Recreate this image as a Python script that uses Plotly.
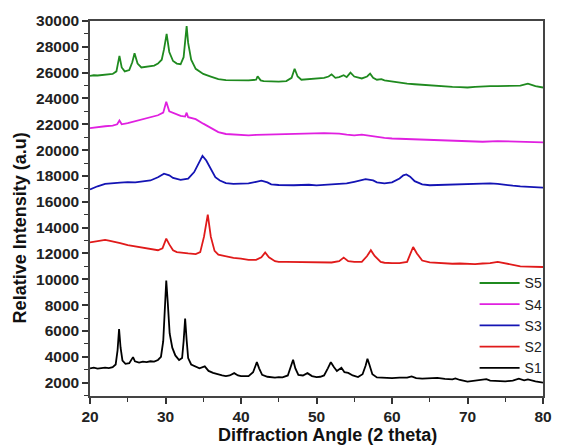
import plotly.graph_objects as go

# ---------------- data ----------------
s1_x = [20, 20.5, 21, 21.5, 22, 22.5, 23, 23.4, 23.65, 23.85, 24.05, 24.3, 24.7, 25.2, 25.5, 25.7, 25.95,
        26.5, 27, 27.5, 28, 28.5, 29, 29.4, 29.7, 29.9, 30.1, 30.3, 30.55, 30.9, 31.3, 31.8, 32.2, 32.4,
        32.6, 32.8, 33.0, 33.4, 34, 34.5, 35.2, 35.7, 36.3, 37, 37.5, 38, 38.5, 39.1, 39.6, 40, 40.5, 41,
        41.6, 41.9, 42.1, 42.4, 42.8, 43.5, 44, 44.5, 45, 45.5, 46.2, 46.6, 46.9, 47.2, 47.6, 48.2, 48.8,
        49.4, 50, 50.5, 51, 51.5, 51.9, 52.3, 52.7, 53.3, 53.7, 54.2, 54.8, 55.5, 56.1, 56.5, 56.75, 57.0,
        57.4, 58, 58.5, 59, 60, 61, 62, 62.6, 63.2, 64, 65, 66, 67, 68, 68.4, 69, 70, 71, 72, 72.5, 73, 74,
        75, 76, 76.8, 77.5, 78, 79, 80]
s1_y = [3100, 3150, 3080, 3130, 3160, 3120, 3200, 3400, 4500, 6150, 4700, 3700, 3450, 3500, 3750, 3970, 3650,
        3550, 3620, 3580, 3650, 3620, 3750, 4000, 5200, 7800, 9900, 8200, 5800, 4700, 4100, 3750, 3900, 5200,
        6950, 5300, 3900, 3400, 3250, 3100, 3250, 2900, 2750, 2600, 2550, 2500, 2550, 2730, 2550, 2500, 2480, 2500,
        2800, 3350, 3580, 3100, 2600, 2450, 2420, 2380, 2420, 2400, 2550, 3200, 3770, 3100, 2600, 2550, 2730,
        2500, 2420, 2450, 2550, 3100, 3580, 3200, 2900, 3150, 2800, 2750, 2550, 2430, 2650, 3300, 3850, 3400,
        2650, 2400, 2380, 2400, 2350, 2380, 2380, 2480, 2350, 2300, 2320, 2360, 2280, 2250, 2320, 2200, 2080,
        2150, 2180, 2260, 2150, 2130, 2100, 2150, 2300, 2180, 2250, 2100, 2000]

s2_x = [20, 20.5, 21, 21.5, 22, 22.5, 23, 24, 25, 26, 27, 28, 29, 29.6, 30.1, 30.5, 31, 31.5, 32, 33, 34,
        34.6, 35.1, 35.6, 36.0, 36.5, 37, 38, 39, 40, 41, 42, 42.7, 43.2, 43.7, 44.5, 45, 46, 47, 48, 49,
        50, 51, 52, 53, 53.6, 54.2, 55, 56, 56.7, 57.2, 57.7, 58.5, 59, 60, 61, 62, 62.4, 62.8, 63.3, 64,
        65, 66, 67, 68, 69, 70, 71, 72, 73, 74, 75, 76, 77, 78, 79, 80]
s2_y = [12850, 12900, 12950, 13000, 13050, 13000, 12950, 12800, 12650, 12550, 12450, 12350, 12250, 12400,
        13150, 12700, 12250, 12100, 12050, 12000, 11950, 12100, 13300, 15000, 13300, 12200, 11900, 11750,
        11650, 11600, 11500, 11500, 11700, 12070, 11700, 11400, 11350, 11350, 11350, 11330, 11350, 11330,
        11350, 11300, 11400, 11680, 11400, 11350, 11350, 11800, 12250, 11800, 11350, 11280, 11250, 11250,
        11350, 11900, 12500, 12000, 11450, 11300, 11250, 11230, 11200, 11220, 11200, 11180, 11220, 11250,
        11350, 11250, 11100, 11000, 10980, 10950, 10950]

s3_x = [20, 20.5, 21, 22, 23, 24, 25, 26, 27, 28, 29, 29.8, 30.5, 31, 32, 33, 33.8, 34.4, 34.9, 35.4, 36,
        36.6, 37.2, 38, 39, 40, 41, 42, 42.7, 43.5, 44, 45, 46, 47, 48, 49, 50, 51, 52, 53, 54, 55, 56,
        56.5, 57.5, 58, 59, 60, 61, 61.5, 61.9, 62.4, 63, 64, 65, 66, 67, 68, 69, 70, 71, 72, 73, 74, 75,
        76, 77, 78, 79, 80]
s3_y = [16950, 17100, 17200, 17380, 17450, 17480, 17520, 17500, 17580, 17650, 17900, 18180, 18050, 17850,
        17700, 17800, 18300, 19000, 19550, 19200, 18500, 17900, 17650, 17450, 17380, 17400, 17420, 17550,
        17630, 17500, 17350, 17300, 17270, 17280, 17300, 17320, 17270, 17300, 17350, 17380, 17420, 17550,
        17700, 17760, 17650, 17500, 17420, 17500, 17800, 18050, 18120, 17950, 17600, 17350, 17280, 17300,
        17320, 17350, 17380, 17400, 17420, 17450, 17420, 17380, 17300, 17250, 17200, 17150, 17100, 17100]

s4_x = [20, 20.5, 21, 22, 23, 23.6, 23.9, 24.2, 25, 26, 27, 28, 29, 29.7, 30.1, 30.5, 31, 31.5, 32, 32.6,
        32.8, 33.0, 34, 35, 36, 37, 38, 39, 40, 41, 42, 43, 44, 45, 46, 47, 48, 49, 50, 51, 52, 53, 54, 55,
        56, 57, 58, 59, 60, 62, 64, 66, 68, 70, 72, 74, 76, 78, 80]
s4_y = [21700, 21750, 21780, 21850, 21900, 22000, 22300, 22000, 22100, 22250, 22400, 22550, 22700, 22900,
        23750, 23000, 22900, 22800, 22650, 22600, 22900, 22550, 22400, 22050, 21700, 21400, 21250, 21200,
        21150, 21150, 21180, 21200, 21200, 21230, 21250, 21270, 21250, 21300, 21300, 21320, 21300, 21280,
        21200, 21150, 21200, 21100, 21000, 20950, 20900, 20850, 20800, 20750, 20750, 20700, 20650, 20700,
        20650, 20650, 20600]

s5_x = [20, 20.5, 21, 22, 23, 23.5, 23.9, 24.2, 24.6, 25.2, 25.6, 25.9, 26.3, 26.8, 27.5, 28, 28.5, 29,
        29.5, 29.8, 30.15, 30.5, 31, 31.5, 32, 32.4, 32.6, 32.8, 33.0, 33.4, 34, 35, 36, 37, 38, 39, 40, 41,
        42, 42.2, 42.6, 43, 44, 45, 46, 46.7, 47.1, 47.5, 48, 49, 50, 51, 51.6, 52, 52.5, 53, 53.6, 54,
        54.5, 55, 56, 56.7, 57.1, 57.5, 58, 58.6, 59, 60, 61, 62, 63, 64, 65, 66, 67, 68, 69, 70, 71, 72,
        73, 74, 75, 76, 77, 78, 79, 80]
s5_y = [25750, 25800, 25780, 25850, 25900, 26100, 27300, 26400, 26100, 26200, 26800, 27500, 26700, 26400,
        26450, 26500, 26550, 26700, 27000, 27800, 29000, 27600, 26900, 26700, 26650, 27200, 28500, 29600,
        28300, 27000, 26300, 25900, 25700, 25500, 25420, 25400, 25380, 25400, 25450, 25720, 25400, 25350,
        25330, 25300, 25350, 25600, 26300, 25700, 25450, 25500, 25500, 25600, 25700, 25870, 25600, 25650,
        25800, 25650, 26000, 25700, 25550, 25700, 25920, 25600, 25450, 25500, 25400, 25300, 25200, 25150,
        25100, 25050, 25020, 24950, 24950, 24900, 24880, 24850, 24900, 24950, 24950, 24950, 24950, 24950,
        25000, 25150, 24950, 24850]

names = ["S5", "S4", "S3", "S2", "S1"]
colors = ["#1f8a1f", "#e020e0", "#1414b4", "#e01a1a", "#000000"]
xs = [s5_x, s4_x, s3_x, s2_x, s1_x]
ys = [s5_y, s4_y, s3_y, s2_y, s1_y]

x_ticks = [20, 30, 40, 50, 60, 70, 80]
y_ticks = list(range(2000, 30001, 2000))

FONT = "Arial, Liberation Sans, sans-serif"

fig = go.Figure()
for n, c, x, y in zip(names, colors, xs, ys):
    fig.add_trace(go.Scatter(x=x, y=y, mode="lines", name=n,
                             line=dict(color=c, width=1.8)))

axis_font = dict(family=FONT, size=15.5, color="#222222")
fig.update_layout(
    width=563, height=448,
    margin=dict(l=90, r=11, t=21, b=52),
    paper_bgcolor="white", plot_bgcolor="white",
    showlegend=True,
    legend=dict(x=0.849, y=0.343, xanchor="left", yanchor="top",
                bgcolor="rgba(0,0,0,0)", font=dict(family=FONT, size=14, color="#222222"),
                tracegroupgap=0, itemwidth=40),
    annotations=[
        dict(text="<b>Diffraction Angle (2 theta)</b>", xref="paper", yref="paper",
             x=(332 - 90) / 462, y=-(435 - 396) / 375, xanchor="center", yanchor="middle",
             showarrow=False, font=dict(family=FONT, size=18, color="#111")),
        dict(text="<b>Relative Intensity (a.u)</b>", xref="paper", yref="paper",
             x=-(90 - 19) / 462, y=1 - (228 - 21) / 375, xanchor="center", yanchor="middle",
             textangle=-90, showarrow=False, font=dict(family=FONT, size=18, color="#111")),
    ],
)
fig.update_xaxes(
    range=[20, 80], tickvals=x_ticks, ticktext=[f"<b>{v}</b>" for v in x_ticks],
    ticks="outside", ticklen=6, tickwidth=1.5, tickcolor="#333",
    minor=dict(dtick=5, tick0=0, ticks="outside", ticklen=4, tickwidth=1.2, tickcolor="#333"),
    showline=True, linecolor="#444", linewidth=1.5, mirror=True,
    showgrid=False, zeroline=False, tickfont=axis_font,
)
fig.update_yaxes(
    range=[960, 30000], tickvals=y_ticks, ticktext=[f"<b>{v}</b>" for v in y_ticks],
    ticks="outside", ticklen=6, tickwidth=1.5, tickcolor="#333",
    minor=dict(dtick=1000, tick0=0, ticks="outside", ticklen=4, tickwidth=1.2, tickcolor="#333"),
    showline=True, linecolor="#444", linewidth=1.5, mirror=True,
    showgrid=False, zeroline=False, tickfont=axis_font,
)

fig.write_html("out.html")
